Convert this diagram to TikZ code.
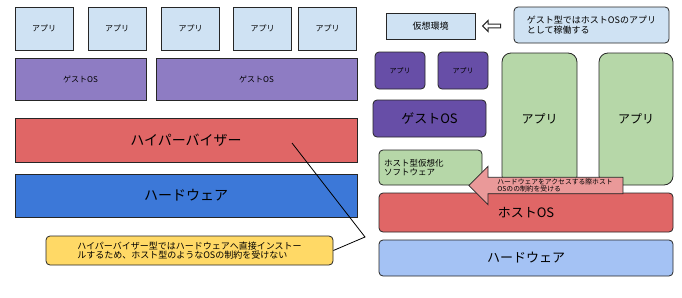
\documentclass[tikz,border=0pt]{standalone}
\usepackage{fontspec}
\setmainfont{Noto Sans CJK JP}
\usetikzlibrary{shapes.arrows, positioning}

\definecolor{paleblue}{RGB}{207,226,243}
\definecolor{lavender}{RGB}{142,124,195}
\definecolor{darkviolet}{RGB}{103,78,167}
\definecolor{softred}{RGB}{224,102,102}
\definecolor{royalblue}{RGB}{60,120,216}
\definecolor{skyblue}{RGB}{164,194,244}
\definecolor{sage}{RGB}{182,215,168}
\definecolor{butter}{RGB}{255,217,102}
\definecolor{rose}{RGB}{234,153,153}

\begin{document}
\begin{tikzpicture}[
  x=1pt, y=-1pt,
  box/.style={rectangle, draw=black!85, line width=0.8pt, inner sep=1pt, align=center},
  appL/.style={box, fill=paleblue, minimum width=58pt, minimum height=43pt, font=\fontsize{8}{9}\selectfont},
  guestL/.style={box, fill=lavender, minimum height=42pt, font=\fontsize{8}{9}\selectfont},
  layer/.style={box, minimum width=342pt, minimum height=44pt, font=\fontsize{14}{16}\selectfont},
  rbox/.style={box, rounded corners=4pt},
  appR/.style={rbox, fill=darkviolet, minimum width=50pt, minimum height=37pt, font=\fontsize{7}{8}\selectfont},
  greenapp/.style={rbox, rounded corners=9pt, fill=sage, minimum width=75pt, minimum height=132pt, font=\fontsize{12}{14}\selectfont},
  bigR/.style={rbox, minimum width=294pt, font=\fontsize{13}{15}\selectfont}
]
\useasboundingbox (0,0) rectangle (682,297);

% hypervisor type (left)
\node[appL] (appL1) at (44,28.5) {アプリ};
\node[appL] (appL2) at (117,28.5) {アプリ};
\node[appL] (appL3) at (190.5,28.5) {アプリ};
\node[appL] (appL4) at (262.5,28.5) {アプリ};
\node[appL] (appL5) at (327.5,28.5) {アプリ};

\node[guestL, minimum width=131pt] (guestL1) at (80.5,79) {ゲストOS};
\node[guestL, minimum width=201pt] (guestL2) at (256.5,79) {ゲストOS};

\node[layer, fill=softred] (hyperL) at (186,140) {ハイパーバイザー};
\node[layer, fill=royalblue, minimum height=43pt] (hwL) at (186,195.5) {ハードウェア};

\node[box, rounded corners=4pt, fill=butter, minimum width=287pt, minimum height=29pt, font=\fontsize{9}{9.5}\selectfont, align=left] (note) at (189.5,250.5) {ハイパーバイザー型ではハードウェアへ直接インストー\\ルするため、ホスト型のようなOSの制約を受けない};

\coordinate (bend) at (365,237);
\coordinate (hyperPt) at (292,143);
\draw[line width=0.8pt] (note.east) -- (bend) -- (hyperPt);

% host type (right)
\node[box, fill=paleblue, minimum width=89pt, minimum height=26pt, font=\fontsize{9}{10}\selectfont] (virtEnv) at (430.5,26) {仮想環境};
\node[rbox, fill=paleblue, minimum width=155pt, minimum height=36pt, font=\fontsize{9}{9.5}\selectfont, align=left] (guestNote) at (591.5,25) {ゲスト型ではホストOSのアプリ\\として稼働する};
\node[single arrow, draw=black!85, line width=1pt, fill=white, shape border rotate=180, minimum height=18pt, minimum width=11pt, inner sep=0.8pt, single arrow head extend=2.5pt] (hollowArr) at (492.5,26) {};

\node[appR] (appR1) at (400,70.5) {アプリ};
\node[appR] (appR2) at (463,70.5) {アプリ};
\node[greenapp] (greenR1) at (539.5,119) {アプリ};
\node[greenapp, minimum width=74pt] (greenR2) at (636,119) {アプリ};

\node[rbox, fill=darkviolet, minimum width=113pt, minimum height=37pt, font=\fontsize{13}{15}\selectfont] (guestR) at (429.5,118.5) {ゲストOS};
\node[rbox, fill=sage, minimum width=103pt, minimum height=35pt, font=\fontsize{8.5}{9.5}\selectfont, align=left, text width=93pt] (hostSW) at (430.5,167.5) {ホスト型仮想化\\ソフトウェア};

\node[bigR, fill=softred, minimum height=39pt] (hostOS) at (526,212.5) {ホストOS};
\node[bigR, fill=skyblue, minimum height=36pt] (hwR) at (526,258) {ハードウェア};

\node[single arrow, draw=black!85, line width=0.8pt, fill=rose, shape border rotate=180, minimum height=154pt, inner xsep=1pt, inner ysep=1pt, single arrow head extend=11pt, font=\fontsize{6.8}{7.3}\selectfont, align=left] (accessArr) at (550,185.5) {\hspace{10pt}ハードウェアをアクセスする際ホスト\\\hspace{10pt}OSのの制約を受ける};

\end{tikzpicture}
\end{document}
